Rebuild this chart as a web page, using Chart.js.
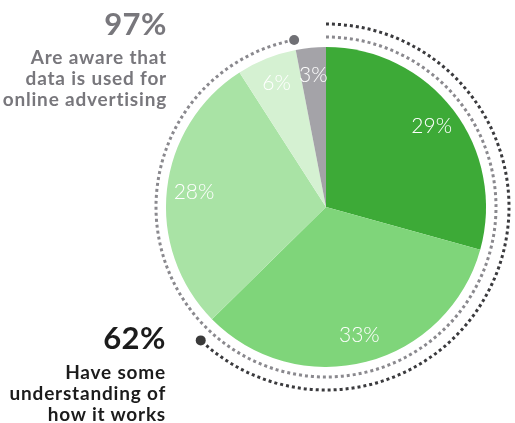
<!DOCTYPE html>
<html>
<head>
<meta charset="utf-8">
<script src="https://cdn.jsdelivr.net/npm/chart.js@4.4.1/dist/chart.umd.min.js"></script>
<style>
html,body{margin:0;padding:0;background:#fff;}
#wrap{position:relative;width:515px;height:423px;overflow:hidden;}
#pie{position:absolute;left:0;top:0;}
.note{position:absolute;left:0;text-align:right;font-family:Lato,sans-serif;font-weight:700;white-space:nowrap;}
.note .big{font-size:31px;line-height:31px;letter-spacing:0.5px;}
.note .txt{font-size:19px;line-height:21px;letter-spacing:0.8px;}
#aware{width:167px;top:8px;color:#78777c;}
#aware .txt{margin-top:7px;}
#works{width:166px;top:322px;color:#1b1b1b;}
#works .txt{margin-top:8px;}
</style>
</head>
<body>
<div id="wrap">
<canvas id="pie" width="515" height="423"></canvas>
<div class="note" id="aware"><div class="big">97%</div><div class="txt">Are aware that<br>data is used for<br>online advertising</div></div>
<div class="note" id="works"><div class="big">62%</div><div class="txt">Have some<br>understanding of<br>how it works</div></div>
</div>
<script>
// slice values, clockwise from the top
const values = [29, 33, 28, 6, 3]
const sliceColors = ['#3daa37', '#7fd57a', '#a9e3a5', '#d5f1d2', '#a4a3a8']

// share of people behind each dotted ring (inner ring first)
const calloutValues = [97, 62]
const calloutColors = ['#8a898e', '#3a3a3d']
const dotColors = ['#707075', '#3a3a3a']

const ringsAndLabels = {
  id: 'ringsAndLabels',
  afterDatasetsDraw(chart) {
    const ctx = chart.ctx
    const arcs = chart.getDatasetMeta(0).data
    const cx = arcs[0].x, cy = arcs[0].y, r = arcs[0].outerRadius

    // percentage labels inside slices
    ctx.save()
    ctx.fillStyle = '#fff'
    ctx.font = '300 21px Lato, sans-serif'
    ctx.textAlign = 'center'
    ctx.textBaseline = 'middle'
    arcs.forEach((a, i) => {
      const mid = (a.startAngle + a.endAngle) / 2
      const d = r * 0.83
      ctx.fillText(values[i] + '%', cx + Math.cos(mid) * d, cy + Math.sin(mid) * d)
    })
    ctx.restore()

    // dotted rings
    calloutValues.forEach((v, i) => {
      const rr = r + 10 + i * 13
      const start = -Math.PI / 2
      const end = start + v / 100 * Math.PI * 2
      ctx.save()
      ctx.strokeStyle = calloutColors[i]
      ctx.lineWidth = 3
      ctx.setLineDash([3, 3])
      ctx.beginPath()
      ctx.arc(cx, cy, rr, start, end)
      ctx.stroke()
      ctx.setLineDash([])
      ctx.fillStyle = dotColors[i]
      ctx.beginPath()
      ctx.arc(cx + Math.cos(end) * rr, cy + Math.sin(end) * rr, 5, 0, Math.PI * 2)
      ctx.fill()
      ctx.restore()
    })
  }
}

new Chart(document.getElementById('pie'), {
  type: 'pie',
  data: {
    labels: values.map(v => v + '%'),
    datasets: [{
      data: values,
      backgroundColor: sliceColors,
      borderWidth: 0
    }]
  },
  options: {
    responsive: false,
    animation: false,
    layout: { padding: { left: 166, top: 47, right: 29, bottom: 56 } },
    plugins: { legend: { display: false }, tooltip: { enabled: false } }
  },
  plugins: [ringsAndLabels]
})
</script>
</body>
</html>
